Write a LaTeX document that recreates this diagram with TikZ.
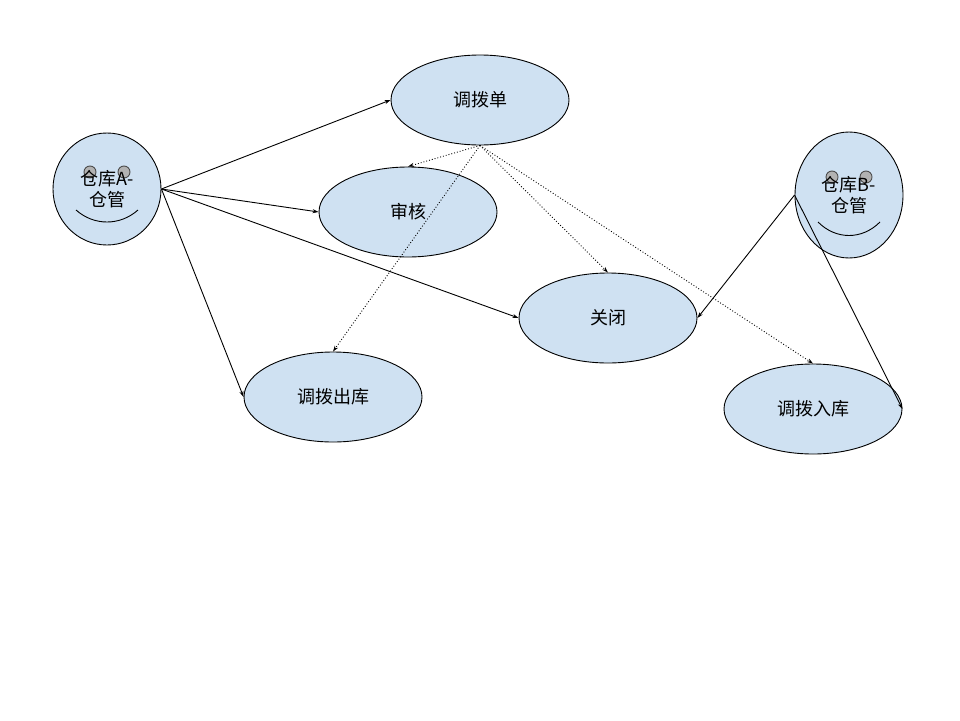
\documentclass[tikz,border=0pt]{standalone}
\usepackage{fontspec}
\newfontfamily\cjk{Noto Sans CJK SC}
\usetikzlibrary{shapes.geometric,arrows.meta}
\definecolor{caseblue}{RGB}{207,225,242}

\tikzset{
  usecase/.style={ellipse, draw=black, fill=caseblue, minimum width=178pt, minimum height=90pt, inner sep=0pt, font=\cjk\fontsize{18}{21}\selectfont},
  actor/.style={ellipse, draw=black, fill=caseblue, inner sep=0pt},
  label/.style={align=center, font=\cjk\fontsize{18}{21}\selectfont},
  eye/.style={circle, draw=black!70, fill=black!30, minimum size=12pt, inner sep=0pt},
  assoc/.style={-{Stealth[length=6pt,width=4pt]}},
  incl/.style={-{Stealth[length=6pt,width=4pt]}, dotted}
}

\begin{document}
\begin{tikzpicture}[x=1pt, y=-1pt, line width=0.9pt]
  \useasboundingbox (0,0) rectangle (960,720);

  % actor A
  \node[actor, minimum width=108pt, minimum height=112pt] (actA) at (107,189) {};
  \node[eye] (eyeA1) at (90,172) {};
  \node[eye] (eyeA2) at (124,172) {};
  \draw (76,210) .. controls (94,226) and (120,226) .. (138,210);
  \node[label] (txtA) at (107,189) {仓库A-\\仓管};

  % actor B
  \node[actor, minimum width=108pt, minimum height=126pt] (actB) at (849,195) {};
  \node[eye] (eyeB1) at (832,177) {};
  \node[eye] (eyeB2) at (866,177) {};
  \draw (818,222) .. controls (836,240) and (862,240) .. (880,222);
  \node[label] (txtB) at (849,195) {仓库B-\\仓管};

  % use cases
  \node[usecase] (dan) at (480,100) {调拨单};
  \node[usecase] (shen) at (408,212) {审核};
  \node[usecase] (guan) at (608,318) {关闭};
  \node[usecase] (chu) at (333,397) {调拨出库};
  \node[usecase] (ru) at (813,409) {调拨入库};

  % associations
  \draw[assoc] (actA.east) -- (dan.west);
  \draw[assoc] (actA.east) -- (shen.west);
  \draw[assoc] (actA.east) -- (guan.west);
  \draw[assoc] (actA.east) -- (chu.west);
  \draw[assoc] (actB.west) -- (guan.east);
  \draw[assoc] (actB.west) -- (ru.east);

  % includes
  \draw[incl] (dan.south) -- (shen.north);
  \draw[incl] (dan.south) -- (chu.north);
  \draw[incl] (dan.south) -- (guan.north);
  \draw[incl] (dan.south) -- (ru.north);
\end{tikzpicture}
\end{document}
